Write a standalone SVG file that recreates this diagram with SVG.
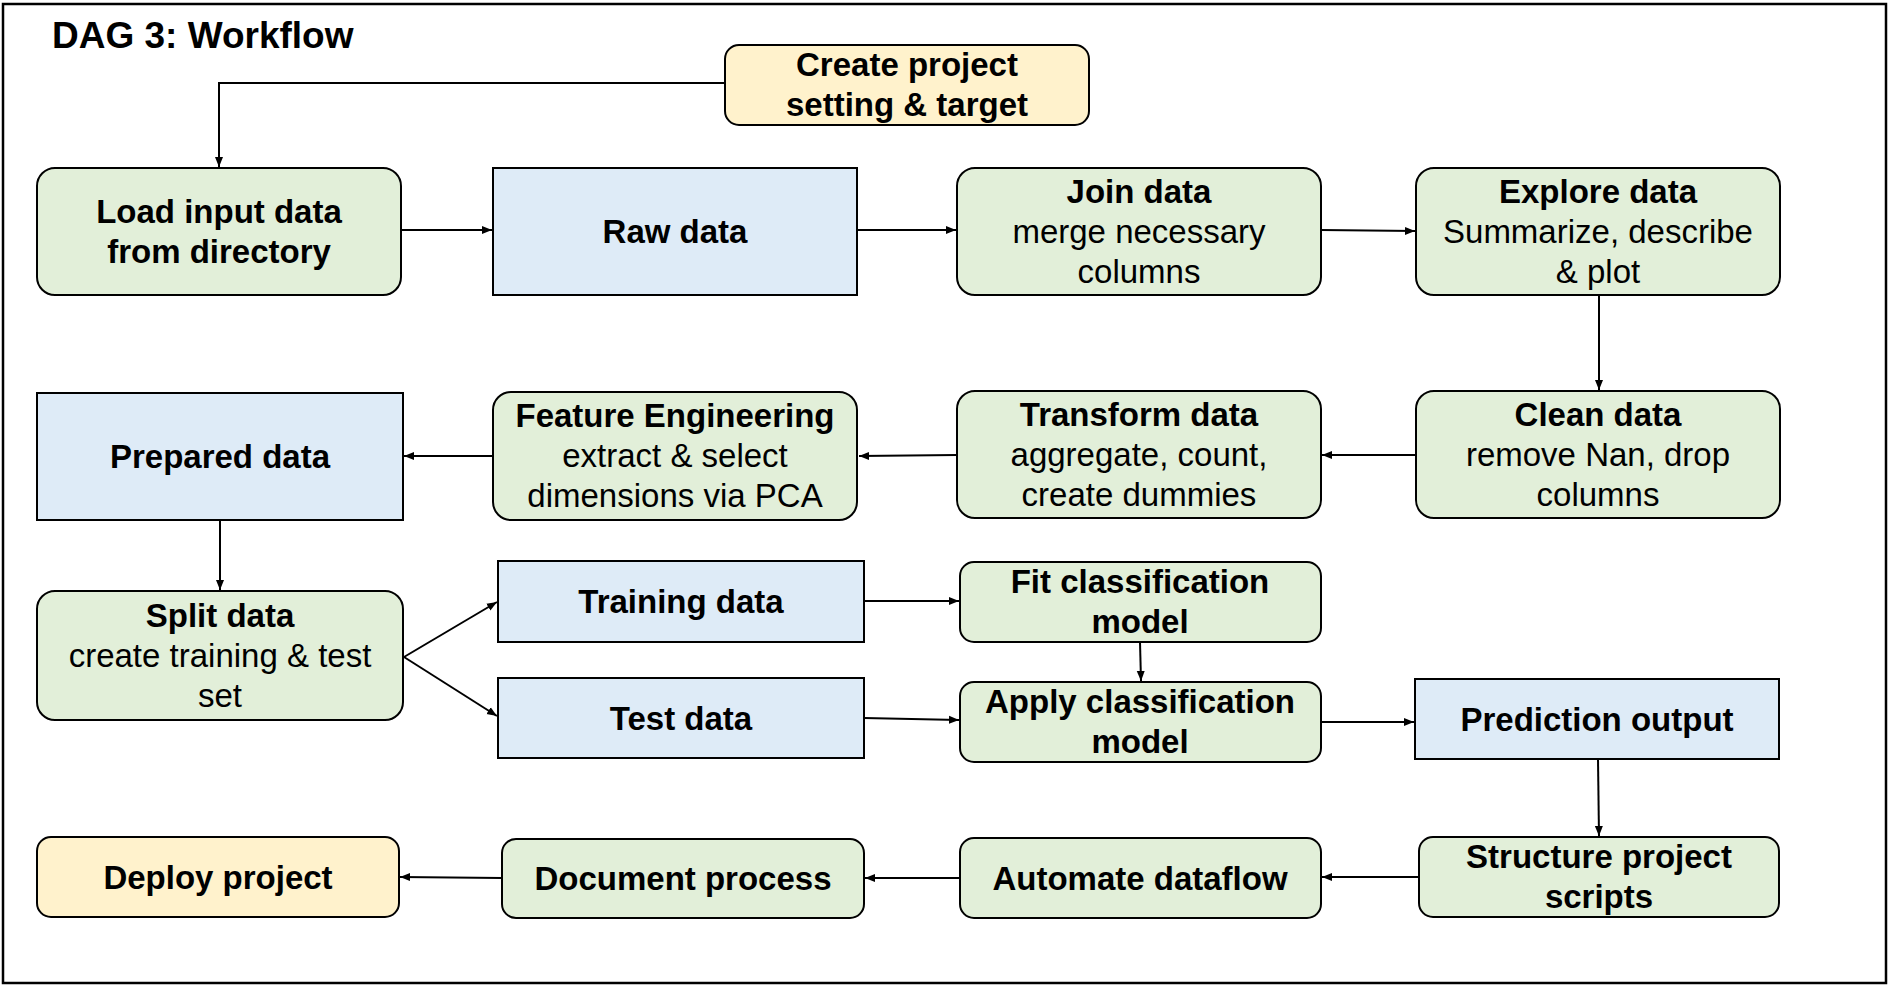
<svg xmlns="http://www.w3.org/2000/svg" width="1890" height="985" viewBox="0 0 1890 985">
<style>
text{font-family:"Liberation Sans",Arial,sans-serif;font-size:33px;fill:#000;text-anchor:middle}
.b{font-weight:bold}
.t{font-size:37px;font-weight:bold;text-anchor:start}
.g{fill:#e2efd9;stroke:#000;stroke-width:2}
.u{fill:#deebf7;stroke:#000;stroke-width:2}
.y{fill:#fff2cc;stroke:#000;stroke-width:2}
.c{fill:none;stroke:#000;stroke-width:2}
</style>
<defs>
<marker id="a" viewBox="0 0 10 10" refX="10" refY="5" markerWidth="10" markerHeight="10" markerUnits="userSpaceOnUse" orient="auto">
<path d="M0,1 L10,5 L0,9 Z" fill="#000"/>
</marker>
</defs>
<rect x="3" y="4" width="1883" height="979" fill="#fff" stroke="#000" stroke-width="2.5"/>
<text class="t" x="52" y="48">DAG 3: Workflow</text>

<g id="connectors">
<path class="c" d="M725,83 H219 V167" marker-end="url(#a)"/>
<path class="c" d="M401,230 H492" marker-end="url(#a)"/>
<path class="c" d="M857,230 H956" marker-end="url(#a)"/>
<path class="c" d="M1321,230 L1415,231" marker-end="url(#a)"/>
<path class="c" d="M1599,295 V390" marker-end="url(#a)"/>
<path class="c" d="M1416,455 H1322" marker-end="url(#a)"/>
<path class="c" d="M957,455 L859,456" marker-end="url(#a)"/>
<path class="c" d="M493,456 H404" marker-end="url(#a)"/>
<path class="c" d="M220,520 V590" marker-end="url(#a)"/>
<path class="c" d="M404,657 L497,602" marker-end="url(#a)"/>
<path class="c" d="M404,657 L497,716" marker-end="url(#a)"/>
<path class="c" d="M864,601 H959" marker-end="url(#a)"/>
<path class="c" d="M864,718 L959,720" marker-end="url(#a)"/>
<path class="c" d="M1140,642 L1141,681" marker-end="url(#a)"/>
<path class="c" d="M1321,722 H1414" marker-end="url(#a)"/>
<path class="c" d="M1598,759 L1599,836" marker-end="url(#a)"/>
<path class="c" d="M1419,877 H1322" marker-end="url(#a)"/>
<path class="c" d="M960,878 H865" marker-end="url(#a)"/>
<path class="c" d="M502,878 L400,877" marker-end="url(#a)"/>
</g>

<g id="create">
<rect class="y" x="725" y="45" width="364" height="80" rx="14"/>
<text class="b" x="907" y="76">Create project</text>
<text class="b" x="907" y="116">setting &amp; target</text>
</g>
<g id="load">
<rect class="g" x="37" y="168" width="364" height="127" rx="18"/>
<text class="b" x="219" y="223">Load input data</text>
<text class="b" x="219" y="263">from directory</text>
</g>
<g id="raw">
<rect class="u" x="493" y="168" width="364" height="127"/>
<text class="b" x="675" y="243">Raw data</text>
</g>
<g id="join">
<rect class="g" x="957" y="168" width="364" height="127" rx="18"/>
<text class="b" x="1139" y="203">Join data</text>
<text x="1139" y="243">merge necessary</text>
<text x="1139" y="283">columns</text>
</g>
<g id="explore">
<rect class="g" x="1416" y="168" width="364" height="127" rx="18"/>
<text class="b" x="1598" y="203">Explore data</text>
<text x="1598" y="243">Summarize, describe</text>
<text x="1598" y="283">&amp; plot</text>
</g>
<g id="clean">
<rect class="g" x="1416" y="391" width="364" height="127" rx="18"/>
<text class="b" x="1598" y="426">Clean data</text>
<text x="1598" y="466">remove Nan, drop</text>
<text x="1598" y="506">columns</text>
</g>
<g id="transform">
<rect class="g" x="957" y="391" width="364" height="127" rx="18"/>
<text class="b" x="1139" y="426">Transform data</text>
<text x="1139" y="466">aggregate, count,</text>
<text x="1139" y="506">create dummies</text>
</g>
<g id="feature">
<rect class="g" x="493" y="392" width="364" height="128" rx="18"/>
<text class="b" x="675" y="427">Feature Engineering</text>
<text x="675" y="467">extract &amp; select</text>
<text x="675" y="507">dimensions via PCA</text>
</g>
<g id="prepared">
<rect class="u" x="37" y="393" width="366" height="127"/>
<text class="b" x="220" y="468">Prepared data</text>
</g>
<g id="split">
<rect class="g" x="37" y="591" width="366" height="129" rx="18"/>
<text class="b" x="220" y="627">Split data</text>
<text x="220" y="667">create training &amp; test</text>
<text x="220" y="707">set</text>
</g>
<g id="training">
<rect class="u" x="498" y="561" width="366" height="81"/>
<text class="b" x="681" y="613">Training data</text>
</g>
<g id="test">
<rect class="u" x="498" y="678" width="366" height="80"/>
<text class="b" x="681" y="730">Test data</text>
</g>
<g id="fit">
<rect class="g" x="960" y="562" width="361" height="80" rx="14"/>
<text class="b" x="1140" y="593">Fit classification</text>
<text class="b" x="1140" y="633">model</text>
</g>
<g id="apply">
<rect class="g" x="960" y="682" width="361" height="80" rx="14"/>
<text class="b" x="1140" y="713">Apply classification</text>
<text class="b" x="1140" y="753">model</text>
</g>
<g id="prediction">
<rect class="u" x="1415" y="679" width="364" height="80"/>
<text class="b" x="1597" y="731">Prediction output</text>
</g>
<g id="structure">
<rect class="g" x="1419" y="837" width="360" height="80" rx="14"/>
<text class="b" x="1599" y="868">Structure project</text>
<text class="b" x="1599" y="908">scripts</text>
</g>
<g id="automate">
<rect class="g" x="960" y="838" width="361" height="80" rx="14"/>
<text class="b" x="1140" y="890">Automate dataflow</text>
</g>
<g id="document">
<rect class="g" x="502" y="839" width="362" height="79" rx="14"/>
<text class="b" x="683" y="890">Document process</text>
</g>
<g id="deploy">
<rect class="y" x="37" y="837" width="362" height="80" rx="14"/>
<text class="b" x="218" y="889">Deploy project</text>
</g>
</svg>
